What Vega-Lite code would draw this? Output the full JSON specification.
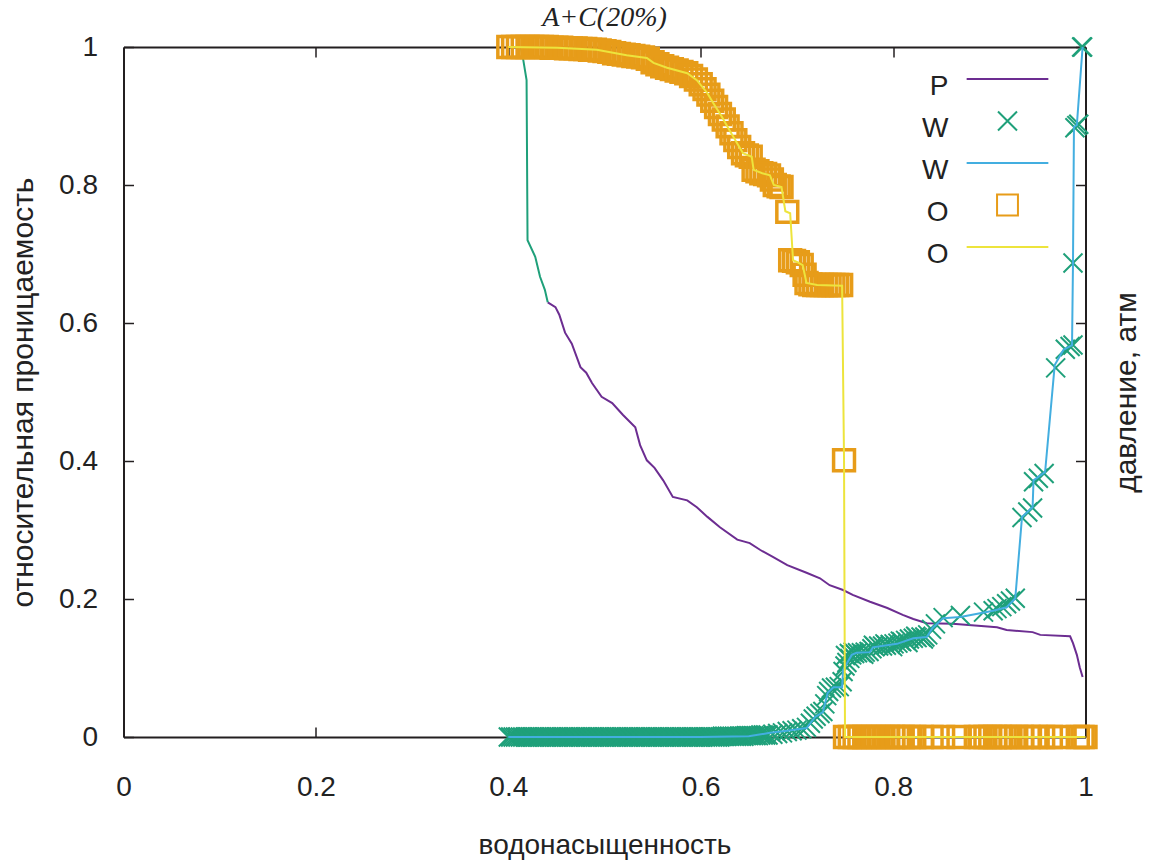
{
"$schema": "https://vega.github.io/schema/vega-lite/v6.json",
"width": 962, "height": 690,
"autosize": {"type": "none"},
"padding": {"left": 123.5, "top": 47, "right": 63.5, "bottom": 123},
"background": "white",
"title": {"text": "A+C(20%)", "font": "Liberation Serif", "fontStyle": "italic", "fontWeight": "normal", "fontSize": 28, "baseline": "alphabetic", "offset": 0, "dy": 24, "anchor": "middle", "color": "#222"},
"config": {
  "view": {"stroke": null},
  "font": "Liberation Sans",
  "axis": {"grid": false, "domainColor": "#231f20", "domainWidth": 2, "tickColor": "#231f20", "tickWidth": 1.5, "tickSize": -10, "labelFontSize": 28, "labelColor": "#222", "titleFontSize": 28, "titleFontWeight": "normal", "titleColor": "#222", "zindex": 1, "labelFlush": false, "labelBound": false, "labelOverlap": false},
  "legend": {"padding": 0, "labelFontSize": 28, "labelColor": "#222", "symbolSize": 1444, "symbolStrokeWidth": 2, "rowPadding": -7.5, "labelAlign": "right", "labelOffset": -79}
},
"datasets": {
  "p": [
    {"s":"P","x":0.441,"y":0.630},{"s":"P","x":0.449,"y":0.623},{"s":"P","x":0.453,"y":0.612},{"s":"P","x":0.459,"y":0.586},{"s":"P","x":0.466,"y":0.570},{"s":"P","x":0.475,"y":0.536},{"s":"P","x":0.481,"y":0.528},{"s":"P","x":0.487,"y":0.513},{"s":"P","x":0.497,"y":0.493},{"s":"P","x":0.508,"y":0.484},{"s":"P","x":0.519,"y":0.467},{"s":"P","x":0.532,"y":0.449},{"s":"P","x":0.537,"y":0.423},{"s":"P","x":0.544,"y":0.401},{"s":"P","x":0.552,"y":0.390},{"s":"P","x":0.561,"y":0.372},{"s":"P","x":0.571,"y":0.348},{"s":"P","x":0.586,"y":0.343},{"s":"P","x":0.596,"y":0.333},{"s":"P","x":0.607,"y":0.319},{"s":"P","x":0.620,"y":0.304},{"s":"P","x":0.638,"y":0.286},{"s":"P","x":0.651,"y":0.281},{"s":"P","x":0.662,"y":0.271},{"s":"P","x":0.675,"y":0.261},{"s":"P","x":0.690,"y":0.249},{"s":"P","x":0.710,"y":0.238},{"s":"P","x":0.724,"y":0.230},{"s":"P","x":0.734,"y":0.220},{"s":"P","x":0.748,"y":0.213},{"s":"P","x":0.758,"y":0.206},{"s":"P","x":0.776,"y":0.196},{"s":"P","x":0.794,"y":0.187},{"s":"P","x":0.810,"y":0.177},{"s":"P","x":0.821,"y":0.171},{"s":"P","x":0.835,"y":0.165},{"s":"P","x":0.862,"y":0.164},{"s":"P","x":0.908,"y":0.159},{"s":"P","x":0.918,"y":0.155},{"s":"P","x":0.945,"y":0.152},{"s":"P","x":0.953,"y":0.148},{"s":"P","x":0.984,"y":0.146},{"s":"P","x":0.987,"y":0.136},{"s":"P","x":0.991,"y":0.119},{"s":"P","x":0.994,"y":0.101},{"s":"P","x":0.997,"y":0.087}
  ],
  "g": [
    {"x":0.413,"y":1.0},{"x":0.415,"y":0.986},{"x":0.419,"y":0.952},{"x":0.420,"y":0.720},{"x":0.428,"y":0.696},{"x":0.433,"y":0.667},{"x":0.438,"y":0.648},{"x":0.441,"y":0.630}
  ],
  "wm": [
    {"s":"W1","x":0.400,"y":0},{"s":"W1","x":0.405,"y":0},{"s":"W1","x":0.410,"y":0},{"s":"W1","x":0.415,"y":0},{"s":"W1","x":0.420,"y":0},{"s":"W1","x":0.425,"y":0},{"s":"W1","x":0.430,"y":0},{"s":"W1","x":0.435,"y":0},{"s":"W1","x":0.440,"y":0},{"s":"W1","x":0.445,"y":0},{"s":"W1","x":0.450,"y":0},{"s":"W1","x":0.455,"y":0},{"s":"W1","x":0.460,"y":0},{"s":"W1","x":0.465,"y":0},{"s":"W1","x":0.470,"y":0},{"s":"W1","x":0.475,"y":0},{"s":"W1","x":0.480,"y":0},{"s":"W1","x":0.485,"y":0},{"s":"W1","x":0.490,"y":0},{"s":"W1","x":0.495,"y":0},{"s":"W1","x":0.500,"y":0},{"s":"W1","x":0.505,"y":0},{"s":"W1","x":0.510,"y":0},{"s":"W1","x":0.515,"y":0},{"s":"W1","x":0.520,"y":0},{"s":"W1","x":0.525,"y":0},{"s":"W1","x":0.530,"y":0},{"s":"W1","x":0.535,"y":0},{"s":"W1","x":0.540,"y":0},{"s":"W1","x":0.545,"y":0},{"s":"W1","x":0.550,"y":0},{"s":"W1","x":0.555,"y":0},{"s":"W1","x":0.560,"y":0},{"s":"W1","x":0.565,"y":0},{"s":"W1","x":0.570,"y":0},{"s":"W1","x":0.575,"y":0},{"s":"W1","x":0.580,"y":0},{"s":"W1","x":0.585,"y":0},{"s":"W1","x":0.590,"y":0},{"s":"W1","x":0.595,"y":0},{"s":"W1","x":0.600,"y":0},{"s":"W1","x":0.605,"y":0},{"s":"W1","x":0.610,"y":0},{"s":"W1","x":0.615,"y":0},{"s":"W1","x":0.620,"y":0},{"s":"W1","x":0.625,"y":0.001},{"s":"W1","x":0.630,"y":0.001},{"s":"W1","x":0.635,"y":0.001},{"s":"W1","x":0.640,"y":0.001},{"s":"W1","x":0.645,"y":0.001},{"s":"W1","x":0.650,"y":0.002},{"s":"W1","x":0.655,"y":0.002},{"s":"W1","x":0.660,"y":0.002},{"s":"W1","x":0.665,"y":0.003},
    {"s":"W1","x":0.4025,"y":0},{"s":"W1","x":0.4075,"y":0},{"s":"W1","x":0.4125,"y":0},{"s":"W1","x":0.4175,"y":0},{"s":"W1","x":0.4225,"y":0},{"s":"W1","x":0.4275,"y":0},{"s":"W1","x":0.4325,"y":0},{"s":"W1","x":0.4375,"y":0},{"s":"W1","x":0.4425,"y":0},{"s":"W1","x":0.4475,"y":0},{"s":"W1","x":0.4525,"y":0},{"s":"W1","x":0.4575,"y":0},{"s":"W1","x":0.4625,"y":0},{"s":"W1","x":0.4675,"y":0},{"s":"W1","x":0.4725,"y":0},{"s":"W1","x":0.4775,"y":0},{"s":"W1","x":0.4825,"y":0},{"s":"W1","x":0.4875,"y":0},{"s":"W1","x":0.4925,"y":0},{"s":"W1","x":0.4975,"y":0},{"s":"W1","x":0.5025,"y":0},{"s":"W1","x":0.5075,"y":0},{"s":"W1","x":0.5125,"y":0},{"s":"W1","x":0.5175,"y":0},{"s":"W1","x":0.5225,"y":0},{"s":"W1","x":0.5275,"y":0},{"s":"W1","x":0.5325,"y":0},{"s":"W1","x":0.5375,"y":0},{"s":"W1","x":0.5425,"y":0},{"s":"W1","x":0.5475,"y":0},{"s":"W1","x":0.5525,"y":0},{"s":"W1","x":0.5575,"y":0},{"s":"W1","x":0.5625,"y":0},{"s":"W1","x":0.5675,"y":0},{"s":"W1","x":0.5725,"y":0},{"s":"W1","x":0.5775,"y":0},{"s":"W1","x":0.5825,"y":0},{"s":"W1","x":0.5875,"y":0},{"s":"W1","x":0.5925,"y":0},{"s":"W1","x":0.5975,"y":0},{"s":"W1","x":0.6025,"y":0},{"s":"W1","x":0.6075,"y":0},{"s":"W1","x":0.6125,"y":0},{"s":"W1","x":0.6175,"y":0},{"s":"W1","x":0.6225,"y":0.001},{"s":"W1","x":0.6275,"y":0.001},{"s":"W1","x":0.6325,"y":0.001},{"s":"W1","x":0.6375,"y":0.001},{"s":"W1","x":0.6425,"y":0.001},{"s":"W1","x":0.6475,"y":0.002},{"s":"W1","x":0.6525,"y":0.002},{"s":"W1","x":0.6575,"y":0.002},{"s":"W1","x":0.6625,"y":0.003},{"s":"W1","x":0.6675,"y":0.003},
    {"s":"W1","x":0.670,"y":0.003},{"s":"W1","x":0.675,"y":0.004},{"s":"W1","x":0.680,"y":0.005},{"s":"W1","x":0.685,"y":0.006},{"s":"W1","x":0.690,"y":0.008},{"s":"W1","x":0.695,"y":0.009},{"s":"W1","x":0.700,"y":0.010},{"s":"W1","x":0.705,"y":0.012},{"s":"W1","x":0.710,"y":0.014},{"s":"W1","x":0.714,"y":0.020},{"s":"W1","x":0.717,"y":0.026},{"s":"W1","x":0.720,"y":0.030},{"s":"W1","x":0.724,"y":0.034},{"s":"W1","x":0.727,"y":0.037},{"s":"W1","x":0.729,"y":0.048},{"s":"W1","x":0.731,"y":0.060},{"s":"W1","x":0.733,"y":0.066},{"s":"W1","x":0.736,"y":0.071},{"s":"W1","x":0.740,"y":0.072},{"s":"W1","x":0.744,"y":0.073},{"s":"W1","x":0.747,"y":0.080},{"s":"W1","x":0.748,"y":0.095},{"s":"W1","x":0.750,"y":0.103},{"s":"W1","x":0.752,"y":0.108},{"s":"W1","x":0.755,"y":0.114},{"s":"W1","x":0.757,"y":0.119},{"s":"W1","x":0.760,"y":0.121},{"s":"W1","x":0.763,"y":0.122},{"s":"W1","x":0.767,"y":0.122},{"s":"W1","x":0.771,"y":0.123},{"s":"W1","x":0.775,"y":0.124},{"s":"W1","x":0.778,"y":0.128},{"s":"W1","x":0.781,"y":0.131},{"s":"W1","x":0.785,"y":0.132},{"s":"W1","x":0.789,"y":0.132},{"s":"W1","x":0.793,"y":0.133},{"s":"W1","x":0.797,"y":0.134},{"s":"W1","x":0.801,"y":0.135},{"s":"W1","x":0.805,"y":0.136},{"s":"W1","x":0.809,"y":0.138},{"s":"W1","x":0.813,"y":0.140},{"s":"W1","x":0.817,"y":0.142},{"s":"W1","x":0.821,"y":0.143},{"s":"W1","x":0.825,"y":0.144},{"s":"W1","x":0.829,"y":0.145},{"s":"W1","x":0.833,"y":0.145},{"s":"W1","x":0.836,"y":0.148},{"s":"W1","x":0.840,"y":0.156},{"s":"W1","x":0.844,"y":0.164},{"s":"W1","x":0.852,"y":0.173},{"s":"W1","x":0.870,"y":0.176},{"s":"W1","x":0.894,"y":0.181},{"s":"W1","x":0.904,"y":0.183},{"s":"W1","x":0.908,"y":0.186},{"s":"W1","x":0.913,"y":0.189},{"s":"W1","x":0.918,"y":0.193},{"s":"W1","x":0.922,"y":0.197},{"s":"W1","x":0.927,"y":0.201},{"s":"W1","x":0.934,"y":0.318},{"s":"W1","x":0.940,"y":0.326},{"s":"W1","x":0.945,"y":0.332},{"s":"W1","x":0.946,"y":0.370},{"s":"W1","x":0.951,"y":0.375},{"s":"W1","x":0.957,"y":0.382},{"s":"W1","x":0.969,"y":0.535},{"s":"W1","x":0.979,"y":0.562},{"s":"W1","x":0.984,"y":0.566},{"s":"W1","x":0.987,"y":0.568},{"s":"W1","x":0.987,"y":0.687},{"s":"W1","x":0.989,"y":0.883},{"s":"W1","x":0.991,"y":0.886},{"s":"W1","x":0.993,"y":0.888},{"s":"W1","x":0.996,"y":1.0},{"s":"W1","x":0.997,"y":1.0},
    {"s":"W1","x":0.7505,"y":0.118},{"s":"W1","x":0.7545,"y":0.121},{"s":"W1","x":0.7585,"y":0.123},{"s":"W1","x":0.7695,"y":0.120},{"s":"W1","x":0.7795,"y":0.133},{"s":"W1","x":0.7915,"y":0.135},{"s":"W1","x":0.7995,"y":0.131},{"s":"W1","x":0.8075,"y":0.139},{"s":"W1","x":0.8155,"y":0.137},{"s":"W1","x":0.8235,"y":0.146},{"s":"W1","x":0.8315,"y":0.142}
  ],
  "wl": [
    {"s":"W2","x":0.400,"y":0},{"s":"W2","x":0.600,"y":0},{"s":"W2","x":0.650,"y":0.001},{"s":"W2","x":0.672,"y":0.006},{"s":"W2","x":0.690,"y":0.009},{"s":"W2","x":0.710,"y":0.013},{"s":"W2","x":0.719,"y":0.029},{"s":"W2","x":0.727,"y":0.036},{"s":"W2","x":0.732,"y":0.064},{"s":"W2","x":0.738,"y":0.072},{"s":"W2","x":0.747,"y":0.072},{"s":"W2","x":0.748,"y":0.097},{"s":"W2","x":0.752,"y":0.107},{"s":"W2","x":0.757,"y":0.119},{"s":"W2","x":0.762,"y":0.122},{"s":"W2","x":0.776,"y":0.123},{"s":"W2","x":0.779,"y":0.130},{"s":"W2","x":0.804,"y":0.135},{"s":"W2","x":0.821,"y":0.143},{"s":"W2","x":0.835,"y":0.145},{"s":"W2","x":0.841,"y":0.158},{"s":"W2","x":0.852,"y":0.172},{"s":"W2","x":0.870,"y":0.174},{"s":"W2","x":0.904,"y":0.183},{"s":"W2","x":0.918,"y":0.188},{"s":"W2","x":0.927,"y":0.201},{"s":"W2","x":0.934,"y":0.319},{"s":"W2","x":0.945,"y":0.333},{"s":"W2","x":0.946,"y":0.372},{"s":"W2","x":0.958,"y":0.384},{"s":"W2","x":0.968,"y":0.539},{"s":"W2","x":0.977,"y":0.561},{"s":"W2","x":0.986,"y":0.568},{"s":"W2","x":0.987,"y":0.687},{"s":"W2","x":0.988,"y":0.884},{"s":"W2","x":0.991,"y":0.887},{"s":"W2","x":0.997,"y":1.0}
  ],
  "om": [
    {"s":"O1","x":0.400,"y":1.0},{"s":"O1","x":0.405,"y":1.0},{"s":"O1","x":0.410,"y":1.0},{"s":"O1","x":0.415,"y":1.0},{"s":"O1","x":0.420,"y":1.0},{"s":"O1","x":0.425,"y":1.0},{"s":"O1","x":0.430,"y":1.0},{"s":"O1","x":0.435,"y":1.0},{"s":"O1","x":0.440,"y":1.0},{"s":"O1","x":0.445,"y":0.999},{"s":"O1","x":0.450,"y":0.999},{"s":"O1","x":0.455,"y":0.999},{"s":"O1","x":0.460,"y":0.998},{"s":"O1","x":0.465,"y":0.998},{"s":"O1","x":0.470,"y":0.998},{"s":"O1","x":0.475,"y":0.997},{"s":"O1","x":0.480,"y":0.997},{"s":"O1","x":0.485,"y":0.996},{"s":"O1","x":0.490,"y":0.996},{"s":"O1","x":0.495,"y":0.995},{"s":"O1","x":0.500,"y":0.994},{"s":"O1","x":0.505,"y":0.993},{"s":"O1","x":0.510,"y":0.991},{"s":"O1","x":0.515,"y":0.990},{"s":"O1","x":0.520,"y":0.989},{"s":"O1","x":0.525,"y":0.988},{"s":"O1","x":0.530,"y":0.987},{"s":"O1","x":0.535,"y":0.986},{"s":"O1","x":0.540,"y":0.985},{"s":"O1","x":0.545,"y":0.983},{"s":"O1","x":0.550,"y":0.978},{"s":"O1","x":0.555,"y":0.975},{"s":"O1","x":0.560,"y":0.972},{"s":"O1","x":0.565,"y":0.970},{"s":"O1","x":0.570,"y":0.968},{"s":"O1","x":0.575,"y":0.966},{"s":"O1","x":0.580,"y":0.964},{"s":"O1","x":0.585,"y":0.962},{"s":"O1","x":0.590,"y":0.958},{"s":"O1","x":0.595,"y":0.953},{"s":"O1","x":0.600,"y":0.946},{"s":"O1","x":0.604,"y":0.939},{"s":"O1","x":0.608,"y":0.931},{"s":"O1","x":0.612,"y":0.922},{"s":"O1","x":0.616,"y":0.913},{"s":"O1","x":0.620,"y":0.903},{"s":"O1","x":0.624,"y":0.895},{"s":"O1","x":0.628,"y":0.885},{"s":"O1","x":0.632,"y":0.875},{"s":"O1","x":0.636,"y":0.865},{"s":"O1","x":0.640,"y":0.855},{"s":"O1","x":0.644,"y":0.846},{"s":"O1","x":0.648,"y":0.843},{"s":"O1","x":0.652,"y":0.841},{"s":"O1","x":0.655,"y":0.822},{"s":"O1","x":0.659,"y":0.820},{"s":"O1","x":0.663,"y":0.817},{"s":"O1","x":0.667,"y":0.816},{"s":"O1","x":0.671,"y":0.814},{"s":"O1","x":0.674,"y":0.808},{"s":"O1","x":0.677,"y":0.800},{"s":"O1","x":0.681,"y":0.798},{"s":"O1","x":0.684,"y":0.797},{"s":"O1","x":0.690,"y":0.761},{"s":"O1","x":0.693,"y":0.691},{"s":"O1","x":0.697,"y":0.690},{"s":"O1","x":0.701,"y":0.688},{"s":"O1","x":0.705,"y":0.684},{"s":"O1","x":0.708,"y":0.670},{"s":"O1","x":0.710,"y":0.658},{"s":"O1","x":0.714,"y":0.656},{"s":"O1","x":0.718,"y":0.655},{"s":"O1","x":0.722,"y":0.655},{"s":"O1","x":0.726,"y":0.655},{"s":"O1","x":0.730,"y":0.655},{"s":"O1","x":0.734,"y":0.655},{"s":"O1","x":0.738,"y":0.655},{"s":"O1","x":0.742,"y":0.655},{"s":"O1","x":0.746,"y":0.655},{"s":"O1","x":0.749,"y":0.401},
    {"s":"O1","x":0.750,"y":0},{"s":"O1","x":0.755,"y":0},{"s":"O1","x":0.760,"y":0},{"s":"O1","x":0.765,"y":0},{"s":"O1","x":0.770,"y":0},{"s":"O1","x":0.775,"y":0},{"s":"O1","x":0.780,"y":0},{"s":"O1","x":0.785,"y":0},{"s":"O1","x":0.790,"y":0},{"s":"O1","x":0.795,"y":0},{"s":"O1","x":0.800,"y":0},{"s":"O1","x":0.805,"y":0},{"s":"O1","x":0.810,"y":0},{"s":"O1","x":0.816,"y":0},{"s":"O1","x":0.822,"y":0},{"s":"O1","x":0.830,"y":0},{"s":"O1","x":0.840,"y":0},{"s":"O1","x":0.852,"y":0},{"s":"O1","x":0.868,"y":0},{"s":"O1","x":0.886,"y":0},{"s":"O1","x":0.891,"y":0},{"s":"O1","x":0.896,"y":0},{"s":"O1","x":0.901,"y":0},{"s":"O1","x":0.906,"y":0},{"s":"O1","x":0.911,"y":0},{"s":"O1","x":0.916,"y":0},{"s":"O1","x":0.922,"y":0},{"s":"O1","x":0.928,"y":0},{"s":"O1","x":0.934,"y":0},{"s":"O1","x":0.941,"y":0},{"s":"O1","x":0.948,"y":0},{"s":"O1","x":0.956,"y":0},{"s":"O1","x":0.964,"y":0},{"s":"O1","x":0.972,"y":0},{"s":"O1","x":0.992,"y":0},{"s":"O1","x":0.997,"y":0},{"s":"O1","x":1.0,"y":0}
  ],
  "ol": [
    {"s":"O2","x":0.400,"y":1.0},{"s":"O2","x":0.451,"y":0.999},{"s":"O2","x":0.492,"y":0.996},{"s":"O2","x":0.523,"y":0.988},{"s":"O2","x":0.544,"y":0.984},{"s":"O2","x":0.551,"y":0.977},{"s":"O2","x":0.565,"y":0.970},{"s":"O2","x":0.586,"y":0.962},{"s":"O2","x":0.596,"y":0.952},{"s":"O2","x":0.607,"y":0.933},{"s":"O2","x":0.613,"y":0.919},{"s":"O2","x":0.622,"y":0.899},{"s":"O2","x":0.628,"y":0.884},{"s":"O2","x":0.636,"y":0.865},{"s":"O2","x":0.644,"y":0.846},{"s":"O2","x":0.653,"y":0.841},{"s":"O2","x":0.655,"y":0.822},{"s":"O2","x":0.664,"y":0.817},{"s":"O2","x":0.672,"y":0.814},{"s":"O2","x":0.676,"y":0.800},{"s":"O2","x":0.684,"y":0.797},{"s":"O2","x":0.688,"y":0.762},{"s":"O2","x":0.693,"y":0.759},{"s":"O2","x":0.696,"y":0.691},{"s":"O2","x":0.701,"y":0.688},{"s":"O2","x":0.706,"y":0.684},{"s":"O2","x":0.710,"y":0.658},{"s":"O2","x":0.721,"y":0.655},{"s":"O2","x":0.747,"y":0.654},{"s":"O2","x":0.749,"y":0.401},{"s":"O2","x":0.750,"y":0},{"s":"O2","x":1.0,"y":0}
  ]
},
"layer": [
  {
    "data": {"name": "p"},
    "mark": {"type": "line", "strokeWidth": 2},
    "encoding": {
      "x": {"field": "x", "type": "quantitative", "scale": {"domain": [0, 1], "nice": false, "zero": false},
            "axis": {"orient": "bottom", "values": [0, 0.2, 0.4, 0.6, 0.8, 1], "format": "~g", "title": "водонасыщенность", "labelPadding": 46, "titlePadding": 30}},
      "y": {"field": "y", "type": "quantitative", "scale": {"domain": [0, 1], "nice": false, "zero": false},
            "axis": {"orient": "left", "values": [0, 0.2, 0.4, 0.6, 0.8, 1], "format": "~g", "title": "относительная проницаемость", "titleFontSize": 30, "labelPadding": 36, "titlePadding": 20}},
      "color": {"field": "s", "type": "nominal",
                "legend": {"orient": "none", "legendX": 864, "legendY": 12, "title": null, "labelExpr": "datum.label[0]", "encode": {"labels": {"update": {"dy": {"value": 8}}}}},
                "scale": {"domain": ["P", "W1", "W2", "O1", "O2"], "range": ["#6c2d91", "#1fa07a", "#43aee0", "#e79c19", "#ede43c"]}}
    }
  },
  {
    "data": {"name": "g"},
    "mark": {"type": "line", "strokeWidth": 2, "color": "#1fa07a"},
    "encoding": {
      "x": {"field": "x", "type": "quantitative", "axis": {"orient": "top", "values": [0, 0.2, 0.4, 0.6, 0.8, 1], "labels": false, "title": null}},
      "y": {"field": "y", "type": "quantitative", "axis": {"orient": "right", "values": [0, 0.2, 0.4, 0.6, 0.8, 1], "labels": false, "title": "давление, атм", "titleFontSize": 30, "titleAngle": 270, "titlePadding": 55}}
    }
  },
  {
    "data": {"name": "wm"},
    "mark": {"type": "point", "filled": false, "size": 1444, "strokeWidth": 2, "opacity": 1},
    "encoding": {
      "x": {"field": "x", "type": "quantitative", "axis": null},
      "y": {"field": "y", "type": "quantitative", "axis": null},
      "color": {"field": "s", "type": "nominal", "legend": {"orient": "none", "legendX": 864, "legendY": 12, "title": null, "labelExpr": "datum.label[0]", "encode": {"labels": {"update": {"dy": {"value": 8}}}}}},
      "shape": {"field": "s", "type": "nominal", "legend": {"orient": "none", "legendX": 864, "legendY": 12, "title": null, "labelExpr": "datum.label[0]", "encode": {"labels": {"update": {"dy": {"value": 8}}}}},
                "scale": {"domain": ["P", "W1", "W2", "O1", "O2"], "range": ["M-2.15,0L2.15,0", "M-0.5,-0.5L0.5,0.5M-0.5,0.5L0.5,-0.5", "M-2.15,0L2.15,0", "M-0.55,-0.55L0.55,-0.55L0.55,0.55L-0.55,0.55Z", "M-2.15,0L2.15,0"]}}
    }
  },
  {
    "data": {"name": "wl"},
    "mark": {"type": "line", "strokeWidth": 2},
    "encoding": {
      "x": {"field": "x", "type": "quantitative", "axis": null},
      "y": {"field": "y", "type": "quantitative", "axis": null},
      "color": {"field": "s", "type": "nominal", "legend": {"orient": "none", "legendX": 864, "legendY": 12, "title": null, "labelExpr": "datum.label[0]", "encode": {"labels": {"update": {"dy": {"value": 8}}}}}}
    }
  },
  {
    "data": {"name": "om"},
    "mark": {"type": "point", "filled": false, "size": 1444, "strokeWidth": 3.5, "opacity": 1},
    "encoding": {
      "x": {"field": "x", "type": "quantitative", "axis": null},
      "y": {"field": "y", "type": "quantitative", "axis": null},
      "color": {"field": "s", "type": "nominal", "legend": {"orient": "none", "legendX": 864, "legendY": 12, "title": null, "labelExpr": "datum.label[0]", "encode": {"labels": {"update": {"dy": {"value": 8}}}}}},
      "shape": {"field": "s", "type": "nominal", "legend": {"orient": "none", "legendX": 864, "legendY": 12, "title": null, "labelExpr": "datum.label[0]", "encode": {"labels": {"update": {"dy": {"value": 8}}}}}}
    }
  },
  {
    "data": {"name": "ol"},
    "mark": {"type": "line", "strokeWidth": 2},
    "encoding": {
      "x": {"field": "x", "type": "quantitative", "axis": null},
      "y": {"field": "y", "type": "quantitative", "axis": null},
      "color": {"field": "s", "type": "nominal", "legend": {"orient": "none", "legendX": 864, "legendY": 12, "title": null, "labelExpr": "datum.label[0]", "encode": {"labels": {"update": {"dy": {"value": 8}}}}}}
    }
  }
],
"resolve": {"axis": {"x": "independent", "y": "independent"}}
}
